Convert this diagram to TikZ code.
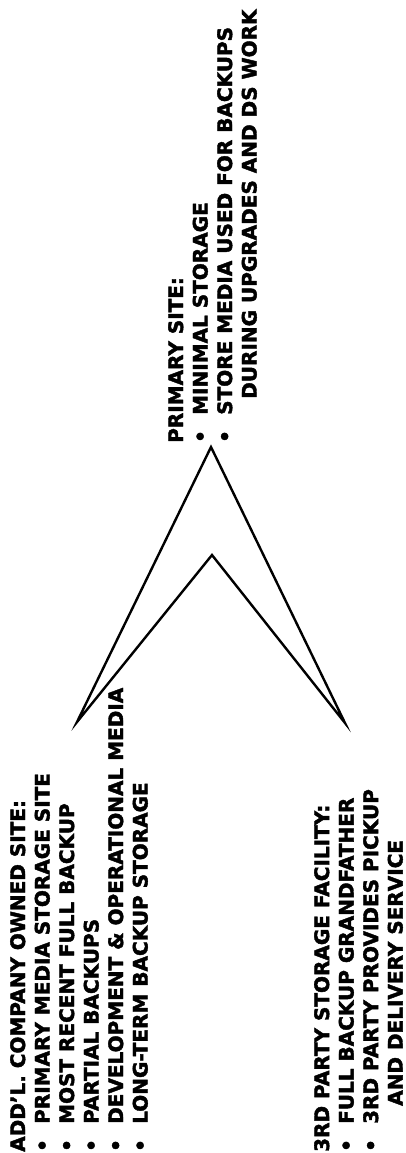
\documentclass[tikz,border=0pt]{standalone}
\usepackage{fontspec}
\setmainfont{DejaVu Sans}[BoldFeatures={FakeBold=2}]
\newcommand{\itm}[1]{\makebox[28pt][l]{•}#1}
\begin{document}
\begin{tikzpicture}[x=1pt,y=-1pt,line join=miter,font=\fontsize{20}{24.5}\selectfont\bfseries,
	site/.style={rotate=90,anchor=north west,inner sep=0pt,align=left}]
			\useasboundingbox (0,0) rectangle (406,1153);
			\coordinate (outer) at (211,447);
			\coordinate (inner) at (212,555);
			\coordinate (ltip) at (77,722);
			\coordinate (rtip) at (345,723);
			\draw[line width=2.4pt] (outer)--(ltip)--(inner)--(rtip)--cycle;
			\node[site] (primary) at (168,443) {PRIMARY SITE:\\ \itm{MINIMAL STORAGE}\\ \itm{STORE MEDIA USED FOR BACKUPS}\\ \hspace*{44pt}DURING UPGRADES AND DS WORK};
			\node[site] (owned) at (10,1152) {ADD'L. COMPANY OWNED SITE:\\ \itm{PRIMARY MEDIA STORAGE SITE}\\ \itm{MOST RECENT FULL BACKUP}\\ \itm{PARTIAL BACKUPS}\\ \itm{DEVELOPMENT \& OPERATIONAL MEDIA}\\ \itm{LONG-TERM BACKUP STORAGE}};
			\node[site] (thirdparty) at (314,1152) {3RD PARTY STORAGE FACILITY:\\ \itm{FULL BACKUP GRANDFATHER}\\ \itm{3RD PARTY PROVIDES PICKUP}\\ \hspace*{46pt}AND DELIVERY SERVICE};
		\end{tikzpicture}
\end{document}
